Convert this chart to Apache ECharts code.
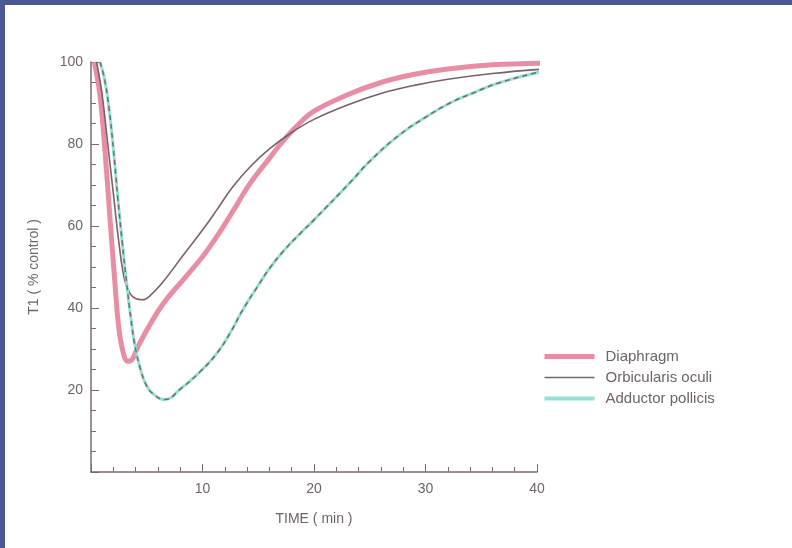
<!DOCTYPE html>
<html>
<head>
<meta charset="utf-8">
<script src="https://cdn.jsdelivr.net/npm/echarts@6/dist/echarts.min.js"></script>
<style>
html, body { margin: 0; padding: 0; width: 792px; height: 548px; background: #4b5892; overflow: hidden; }
#main { position: absolute; left: 5px; top: 5px; width: 787px; height: 543px; background: #fff; }
</style>
</head>
<body>
<div id="main"></div>
<script>
// T1 recovery curves
var diaTime = [0.3, 0.8, 1.25, 1.7, 2.15, 2.5, 2.9, 3.3, 3.7, 4.2, 5.3, 6.6, 8.3, 10, 11.3, 12.7, 14.3, 16, 17, 18.5, 20, 23, 26, 29, 32, 36, 40.3];
var diaVal  = [100, 92, 78.5, 62, 46, 35, 29, 27, 27.5, 30.5, 36, 41.5, 47, 52.5, 57.5, 63.5, 70.5, 76.5, 80, 84.5, 88, 92, 95, 97, 98.3, 99.3, 99.7];

var orbTime = [0.5, 1, 1.5, 2, 2.5, 3, 3.5, 4, 4.6, 5.3, 6.5, 8.3, 10, 11.3, 12.7, 14.3, 16, 18, 20, 23, 26, 29, 32, 36, 40.6];
var orbVal  = [100, 92, 80, 68, 56, 47, 43.5, 42.3, 42, 43, 46.5, 53, 59, 64, 69.5, 74.5, 78.8, 82.8, 86, 89.5, 92.3, 94.3, 95.8, 97.2, 98.3];

var addTime = [0.8, 1.2, 1.6, 2.0, 2.4, 2.8, 3.2, 3.6, 4.0, 4.5, 5.0, 5.6, 6.6, 8, 9.8, 11.3, 12.5, 13.6, 15, 16, 17.3, 18.7, 20, 23.2, 25, 27.7, 30, 32.2, 34.5, 36.7, 40.3];
var addVal  = [100, 96, 89, 79, 67, 56, 46, 37, 30, 24.5, 21, 19, 17.7, 20.2, 24.5, 29, 34, 39.5, 45.5, 49.6, 54, 58, 61.5, 70.5, 75.8, 82.3, 86.5, 90, 92.7, 95, 97.6];

var seriesNames = ['Diaphragm', 'Orbicularis oculi', 'Adductor pollicis'];

function pairs(xs, ys) {
    return xs.map(function (x, i) { return [x, ys[i]]; });
}

var myChart = echarts.init(document.getElementById('main'));
var axisCol = '#7b6b70';
var txtCol = '#6f6468';

option = {
    animation: false,
    textStyle: { fontFamily: 'Liberation Sans, Arial, sans-serif' },
    grid: { left: 86, top: 57, right: 255, bottom: 76 },
    legend: {
        orient: 'vertical',
        left: 532,
        top: 339,
        itemWidth: 50,
        itemHeight: 14,
        itemGap: 6,
        itemStyle: { opacity: 0 },
        textStyle: { fontSize: 15, color: txtCol, padding: [0, 0, 0, 6] },
        data: [
            { name: seriesNames[0], lineStyle: { width: 5 } },
            { name: seriesNames[1], lineStyle: { width: 1.6 } },
            { name: seriesNames[2], lineStyle: { width: 4 } }
        ]
    },
    xAxis: {
        type: 'value',
        min: 0,
        max: 40,
        interval: 10,
        name: 'TIME ( min )',
        nameLocation: 'middle',
        nameGap: 40,
        nameTextStyle: { fontSize: 14, color: txtCol },
        axisLine: { lineStyle: { color: axisCol, width: 1.5 } },
        axisTick: { inside: true, length: 8, lineStyle: { color: axisCol } },
        minorTick: { show: true, splitNumber: 5, length: 5, lineStyle: { color: axisCol } },
        splitLine: { show: false },
        axisLabel: { showMinLabel: false, fontSize: 14, color: txtCol, margin: 10 }
    },
    yAxis: {
        type: 'value',
        min: 0,
        max: 100,
        interval: 20,
        name: 'T1 ( % control )',
        nameLocation: 'middle',
        nameGap: 50,
        nameTextStyle: { fontSize: 14, color: txtCol },
        axisLine: { show: true, lineStyle: { color: axisCol, width: 1.5 } },
        axisTick: { show: true, inside: true, length: 8, lineStyle: { color: axisCol } },
        minorTick: { show: true, splitNumber: 4, length: 5, lineStyle: { color: axisCol } },
        splitLine: { show: false },
        axisLabel: { showMinLabel: false, fontSize: 14, color: txtCol, margin: 8 }
    },
    series: [
        {
            name: 'Diaphragm',
            type: 'line',
            smooth: 0.4,
            symbol: 'none',
            clip: false,
            data: pairs(diaTime, diaVal),
            itemStyle: { color: '#e8879f' },
            lineStyle: { color: '#e8879f', width: 5, opacity: 0.95 }
        },
        {
            name: 'Orbicularis oculi',
            type: 'line',
            smooth: 0.4,
            symbol: 'none',
            clip: false,
            data: pairs(orbTime, orbVal),
            itemStyle: { color: '#7a6268' },
            lineStyle: { color: '#7a6268', width: 1.6 }
        },
        {
            name: 'Adductor pollicis',
            type: 'line',
            smooth: 0.5,
            symbol: 'none',
            clip: false,
            data: pairs(addTime, addVal),
            itemStyle: { color: '#93e3d4' },
            lineStyle: { color: '#93e3d4', width: 3 }
        },
        {
            name: 'Adductor pollicis',
            type: 'line',
            smooth: 0.5,
            symbol: 'none',
            clip: false,
            data: pairs(addTime, addVal),
            itemStyle: { color: '#7a6870' },
            lineStyle: { color: '#7a6870', width: 1.5, type: [5, 4] }
        }
    ]
};
myChart.setOption(option);
</script>
</body>
</html>
